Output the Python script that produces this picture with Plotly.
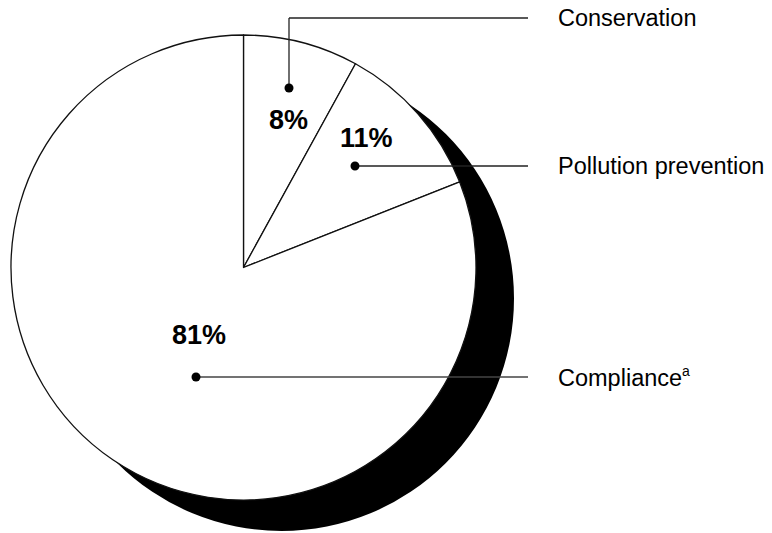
import plotly.graph_objects as go

# Data
categories = ["Conservation", "Pollution prevention", "Compliance"]
values = [8, 11, 81]
label_texts = ["Conservation", "Pollution prevention",
               "Compliance<sup><span style='font-size:14px'>a</span></sup>"]

W, H = 772, 533

def px(x):
    return x / W

def py(y):
    return 1 - y / H

# geometry (pixels)
cx, cy, r = 243.5, 267.5, 232.5
sdx, sdy = 38, 31

fig = go.Figure()

# shadow
fig.add_trace(go.Pie(
    values=[1], labels=["shadow"], sort=False, textinfo="none", hoverinfo="skip",
    marker=dict(colors=["black"], line=dict(width=0)),
    domain=dict(x=[px(cx - r + sdx), px(cx + r + sdx)], y=[py(cy + r + sdy), py(cy - r + sdy)]),
    showlegend=False,
))

# main pie
fig.add_trace(go.Pie(
    values=values, labels=categories, sort=False, direction="clockwise", rotation=0,
    textinfo="none", hoverinfo="label+percent",
    marker=dict(colors=["white"] * 3, line=dict(color="#111111", width=1.3)),
    domain=dict(x=[px(cx - r), px(cx + r)], y=[py(cy + r), py(cy - r)]),
    showlegend=False,
))

# leader lines / dots (pixel positions)
dots = [(289, 88), (355, 166), (196, 377)]
label_y = [18, 166, 377]
line_end = 528
line_cols = ["#222222", "#222222", "#444444"]

shapes = []
for (dx, dy), ly, lc in zip(dots, label_y, line_cols):
    if ly != dy:
        shapes.append(dict(type="line", xref="paper", yref="paper",
                           x0=px(dx), y0=py(dy), x1=px(dx), y1=py(ly),
                           line=dict(color=lc, width=1.3)))
    shapes.append(dict(type="line", xref="paper", yref="paper",
                       x0=px(dx), y0=py(ly), x1=px(line_end), y1=py(ly),
                       line=dict(color=lc, width=1.3)))
    rr = 4.5
    shapes.append(dict(type="circle", xref="paper", yref="paper",
                       x0=px(dx - rr), y0=py(dy + rr), x1=px(dx + rr), y1=py(dy - rr),
                       fillcolor="black", line=dict(color="black", width=0)))

annotations = []
for txt, ly in zip(label_texts, label_y):
    annotations.append(dict(xref="paper", yref="paper", x=px(556), y=py(ly),
                            xanchor="left", yanchor="middle", showarrow=False,
                            text=txt, font=dict(size=23.5, color="black")))

pct_pos = [(288, 120), (366, 138), (199, 335)]
for v, (x, y) in zip(values, pct_pos):
    annotations.append(dict(xref="paper", yref="paper", x=px(x), y=py(y),
                            xanchor="center", yanchor="middle", showarrow=False,
                            text=f"<b>{v}%</b>", font=dict(size=27, color="black")))

fig.update_layout(
    width=W, height=H,
    margin=dict(l=0, r=0, t=0, b=0),
    paper_bgcolor="white", plot_bgcolor="white",
    font=dict(family="Liberation Sans, Arial, Helvetica, sans-serif", color="black"),
    shapes=shapes, annotations=annotations,
    showlegend=False,
)

fig.write_html("out.html", config={"displayModeBar": False},
               post_script="document.body.style.margin='0';document.body.style.overflow='hidden';")
